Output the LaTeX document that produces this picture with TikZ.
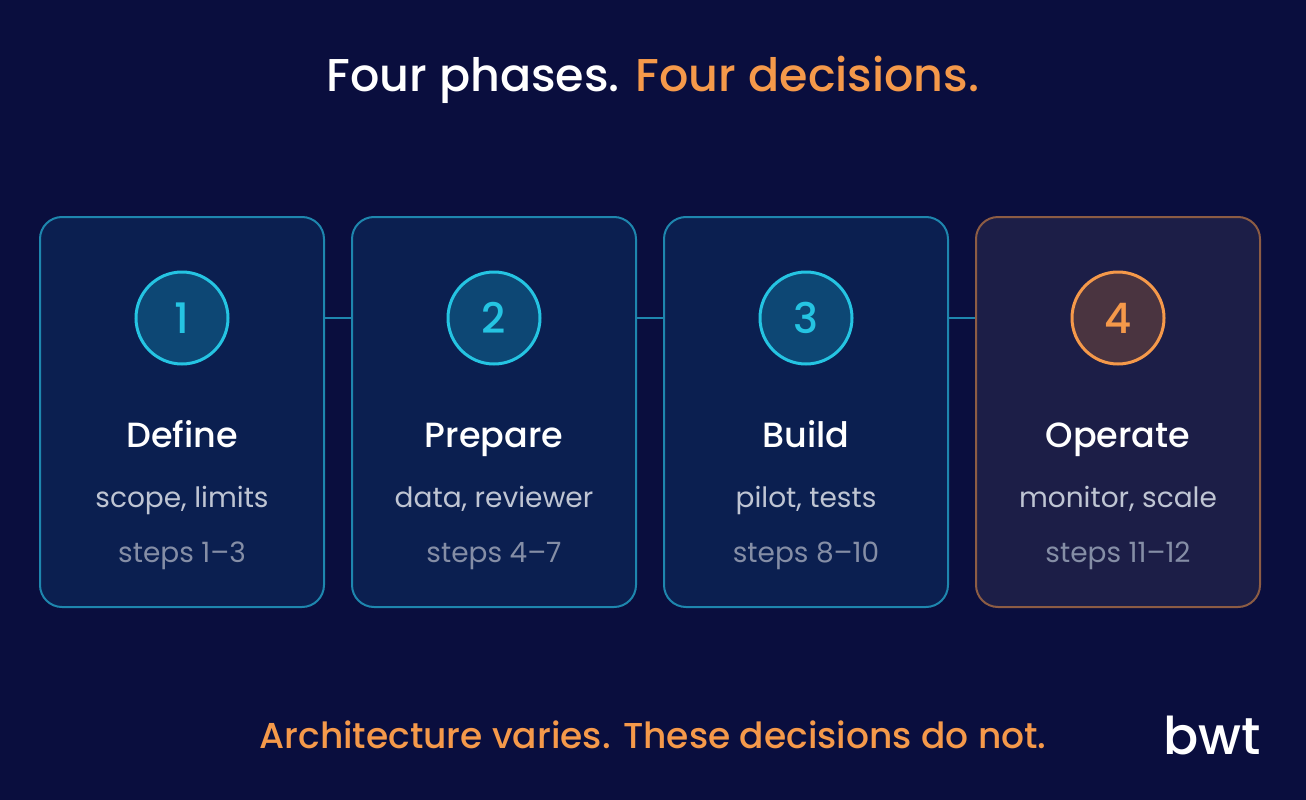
\documentclass[tikz,border=0pt]{standalone}
\usepackage{fontspec}
\setmainfont{Poppins}[BoldFont={Poppins Medium}]
\usetikzlibrary{positioning}
\definecolor{bgnavy}{HTML}{0A0E3E}
\definecolor{boxfill}{HTML}{0B1F50}
\definecolor{boxline}{HTML}{1E86AE}
\definecolor{ringfill}{HTML}{0D4774}
\definecolor{ringline}{HTML}{25C4E2}
\definecolor{accent}{HTML}{F5994A}
\definecolor{boxfillb}{HTML}{1C1E47}
\definecolor{boxlineb}{HTML}{8C5C44}
\definecolor{ringfillb}{HTML}{4A3440}
\definecolor{subgray}{HTML}{BFC5D3}
\definecolor{stepgray}{HTML}{858EA6}
\tikzset{every picture/.style={line width=0.75pt}}
\tikzset{
  phase/.style={draw=boxline, fill=boxfill, line width=2pt, rounded corners=22pt, minimum width=284pt, minimum height=390pt},
  ring/.style={circle, draw=ringline, fill=ringfill, line width=3pt, minimum size=92pt, text=ringline, font=\fontsize{42}{42}\selectfont\bfseries},
  hd/.style={anchor=base, text=white, font=\fontsize{35}{35}\selectfont\bfseries},
  sub/.style={anchor=base, text=subgray, font=\fontsize{28}{28}\selectfont},
  stp/.style={anchor=base, text=stepgray, font=\fontsize{28}{28}\selectfont},
}
\begin{document}
\begin{tikzpicture}[x=1pt,y=1pt,yscale=-1]
  \fill[bgnavy] (0,0) rectangle (1306,800);
  \useasboundingbox (0,0) rectangle (1306,800);
  % title
  \node[anchor=base] (title) at (653,92) {\fontsize{46}{46}\selectfont\bfseries\textcolor{white}{Four phases.} \textcolor{accent}{Four decisions.}};
  % phase boxes
  \node[phase] (b1) at (182,412) {};
  \node[phase] (b2) at (494,412) {};
  \node[phase] (b3) at (806,412) {};
  \node[phase, draw=boxlineb, fill=boxfillb] (b4) at (1118,412) {};
  % links
  \foreach \i/\j in {1/2,2/3,3/4}
    \draw[boxline, line width=2.5pt] ([yshift=-94pt]b\i.east) -- ([yshift=-94pt]b\j.west);
  % rings
  \node[ring] (r1) at (182,318) {1};
  \node[ring] (r2) at (494,318) {2};
  \node[ring] (r3) at (806,318) {3};
  \node[ring, draw=accent, fill=ringfillb, text=accent] (r4) at (1118,318) {4};
  % texts
  \node[hd] (h1) at (182,447) {Define};
  \node[hd] (h2) at (494,447) {Prepare};
  \node[hd] (h3) at (806,447) {Build};
  \node[hd] (h4) at (1118,447) {Operate};
  \node[sub] (s1) at (182,507) {scope, limits};
  \node[sub] (s2) at (494,507) {data, reviewer};
  \node[sub] (s3) at (806,507) {pilot, tests};
  \node[sub] (s4) at (1118,507) {monitor, scale};
  \node[stp] (t1) at (182,562) {steps 1–3};
  \node[stp] (t2) at (494,562) {steps 4–7};
  \node[stp] (t3) at (806,562) {steps 8–10};
  \node[stp] (t4) at (1118,562) {steps 11–12};
  % footer
  \node[anchor=base, text=accent, font=\fontsize{36}{36}\selectfont\bfseries] (foot) at (653,748) {Architecture varies. These decisions do not.};
  \node[anchor=base, text=white, font=\fontsize{52}{52}\selectfont\bfseries] (logo) at (1212,754) {bwt};
\end{tikzpicture}
\end{document}
